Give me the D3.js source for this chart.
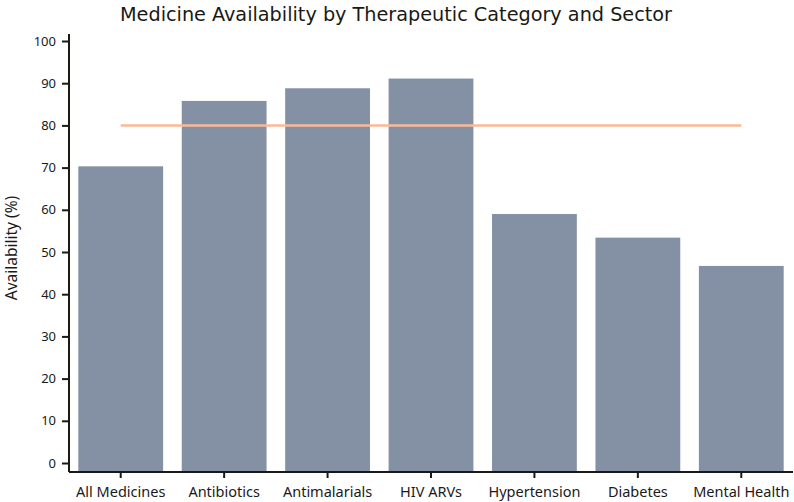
<!DOCTYPE html>
<html><head><meta charset="utf-8">
<script src="https://cdn.jsdelivr.net/npm/d3@7"></script>
<style>body{margin:0;background:#fff}svg{display:block}</style>
</head><body>
<script>
const categories = ["All Medicines","Antibiotics","Antimalarials","HIV ARVs","Hypertension","Diabetes","Mental Health"];
const availability = [70.3, 85.8, 88.8, 91.1, 59.0, 53.4, 46.7];
const targetValue = 80;
const yTicks = [0,10,20,30,40,50,60,70,80,90,100];
const titleText = "Medicine Availability by Therapeutic Category and Sector";
const yLabel = "Availability (%)";

const W = 794, H = 502;
const svg = d3.select("body").append("svg").attr("width", W).attr("height", H);
const font = "'Noto Sans', 'Open Sans', sans-serif";

const x = d3.scaleBand().domain(categories).range([69, 793]).paddingInner(0.18).paddingOuter(0.09);
const y = d3.scaleLinear().domain([0, 100]).range([463, 41]);

svg.append("g").selectAll("rect").data(categories).join("rect")
  .attr("x", d => x(d))
  .attr("y", (d, i) => y(availability[i]))
  .attr("width", x.bandwidth())
  .attr("height", (d, i) => 472 - y(availability[i]))
  .attr("fill", "#8491a5");

svg.append("line")
  .attr("x1", x(categories[0]) + x.bandwidth() / 2)
  .attr("x2", x(categories[categories.length - 1]) + x.bandwidth() / 2)
  .attr("y1", y(targetValue)).attr("y2", y(targetValue))
  .attr("stroke", "#fbb994").attr("stroke-width", 2.5);

const yAxis = svg.append("g").attr("transform", "translate(69,0)")
  .call(d3.axisLeft(y).tickValues(yTicks).tickSize(7).tickSizeOuter(0).tickPadding(6));
yAxis.select(".domain").attr("d", "M0,34V472");
const xAxis = svg.append("g").attr("transform", "translate(0,472)")
  .call(d3.axisBottom(x).tickSize(6).tickSizeOuter(0).tickPadding(9));
xAxis.select(".domain").attr("d", "M69,0H793");

svg.selectAll(".domain").attr("stroke", "#1a1a14").attr("stroke-width", 2);
svg.selectAll(".tick line").attr("stroke", "#1a1a14").attr("stroke-width", 2);
svg.selectAll(".tick text").attr("fill", "#1a1a1a").style("font-family", font);
yAxis.selectAll(".tick text").style("font-size", "13px");
xAxis.selectAll(".tick text").style("font-size", "14.5px");

svg.append("text")
  .attr("transform", "translate(17,248) rotate(-90)")
  .attr("text-anchor", "middle")
  .style("font-family", font).style("font-size", "15.5px").attr("fill", "#1a1a1a")
  .text(yLabel);

svg.append("text")
  .attr("x", 396).attr("y", 21)
  .attr("text-anchor", "middle")
  .attr("textLength", 552).attr("lengthAdjust", "spacingAndGlyphs")
  .style("font-family", "'DejaVu Sans Condensed', 'DejaVu Sans', sans-serif").style("font-size", "20px").attr("fill", "#1a1a14")
  .text(titleText);
</script>
</body></html>
